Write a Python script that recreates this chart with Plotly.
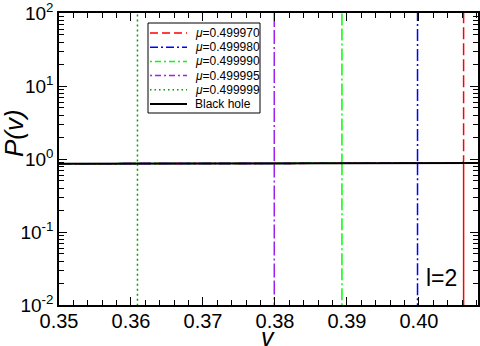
import plotly.graph_objects as go

# black hole curve P(v)
bh_v = [0.35, 0.36, 0.37, 0.38, 0.39, 0.40, 0.4082]
bh_p = [0.862, 0.864, 0.867, 0.870, 0.873, 0.876, 0.878]

# boson star curves: follow the BH curve, then blow up at a critical v
mu_labels = ["0.499970", "0.499980", "0.499990", "0.499995", "0.499999"]
star_v = [
    [0.35, 0.38, 0.40, 0.4061, 0.4062, 0.4062],
    [0.35, 0.37, 0.39, 0.3997, 0.3998, 0.3998, None, 0.3998, 0.3998],
    [0.35, 0.37, 0.3892, 0.3893, 0.3893, None, 0.3893, 0.3893],
    [0.35, 0.37, 0.3798, 0.3799, 0.3799, None, 0.3799, 0.3799],
    [0.35, 0.3608, 0.3609, 0.3609, None, 0.3609, 0.3609],
]
star_p = [
    [0.862, 0.870, 0.876, 0.877, 0.95, 200],
    [0.862, 0.867, 0.873, 0.876, 0.95, 200, None, 0.876, 0.005],
    [0.862, 0.867, 0.873, 0.95, 200, None, 0.873, 0.005],
    [0.862, 0.867, 0.870, 0.95, 200, None, 0.870, 0.005],
    [0.862, 0.864, 0.95, 200, None, 0.864, 0.005],
]
# lower branch of the mu=0.499970 curve (solid in the original)
red_low_v = [0.4061, 0.4062, 0.4062]
red_low_p = [0.877, 0.85, 0.005]

colors = ["#ff0000", "#0000ff", "#00ff00", "#a020f0", "#00a000"]
dashes = ["12px,4px", "12px,3px,2px,3px", "12px,3px,2px,3px,12px,3px",
          "14px,3px,2px,3px,14px,3px", "2px,3px"]
legend_dashes = ["8px,4px", "8px,3px,2px,3px", "2px,3px,6px,3px",
                 "2px,3px,6px,3px", "1.5px,3px"]

# plot area in pixels (for the hand-made legend)
L, R, T, B = 59, 478, 13, 305


def px(x):
    return (x - L) / (R - L)


def py(y):
    return (B - y) / (B - T)


fig = go.Figure()
for lab, v, p, c, d in zip(mu_labels, star_v, star_p, colors, dashes):
    fig.add_trace(go.Scatter(x=v, y=p, mode="lines", name="μ=" + lab, showlegend=False,
                             line=dict(color=c, dash=d, width=1.5)))
fig.add_trace(go.Scatter(x=red_low_v, y=red_low_p, mode="lines", showlegend=False,
                         line=dict(color=colors[0], width=1.5)))
fig.add_trace(go.Scatter(x=bh_v, y=bh_p, mode="lines", name="Black hole", showlegend=False,
                         line=dict(color="black", width=2)))

# legend box
fig.add_shape(type="rect", xref="paper", yref="paper", x0=px(148), x1=px(260),
              y0=py(23), y1=py(113), line=dict(color="black", width=1), fillcolor="white",
              layer="above")
leg_names = ["<i>μ</i>=" + m for m in mu_labels] + ["Black hole"]
leg_colors = colors + ["black"]
leg_dash = legend_dashes + ["solid"]
for i, (n, c, d) in enumerate(zip(leg_names, leg_colors, leg_dash)):
    yy = 33 + i * 14.2
    fig.add_shape(type="line", xref="paper", yref="paper", x0=px(150), x1=px(187),
                  y0=py(yy), y1=py(yy), line=dict(color=c, dash=d, width=2 if c == "black" else 1.5),
                  layer="above")
    fig.add_annotation(xref="paper", yref="paper", x=px(193), y=py(yy), text=n,
                       xanchor="left", yanchor="middle", showarrow=False,
                       font=dict(size=12, color="black"))

fig.add_annotation(xref="paper", yref="paper", x=px(441), y=py(278), text="l=2",
                   xanchor="center", yanchor="middle",
                   showarrow=False, font=dict(size=23, color="black"))
# axis titles
fig.add_annotation(xref="paper", yref="paper", x=px(268), y=py(337), text="<i>v</i>",
                   xanchor="center", yanchor="middle",
                   showarrow=False, font=dict(size=25, color="black"))
fig.add_annotation(xref="paper", yref="paper", x=px(14), y=py(133), text="<i>P(v)</i>",
                   xanchor="center", yanchor="middle",
                   textangle=-90, showarrow=False, font=dict(size=26, color="black"))

tick_font = dict(family="Liberation Sans, Arial", size=20, color="black")
fig.update_xaxes(range=[0.35, 0.4082], tickvals=[0.35, 0.36, 0.37, 0.38, 0.39, 0.40],
                 ticktext=["0.35", "0.36", "0.37", "0.38", "0.39", "0.40"],
                 ticks="inside", ticklen=8, tickwidth=1.3, tickcolor="black",
                 minor=dict(ticks="inside", ticklen=5, dtick=0.002, tick0=0.35, tickcolor="black"),
                 showline=True, linecolor="black", linewidth=1.5, mirror="ticks",
                 showgrid=False, zeroline=False, tickfont=tick_font, automargin=False,
                 ticklabeloverflow="allow", ticklabelstandoff=-3)
fig.update_yaxes(type="log", range=[-2, 2], tickvals=[0.01, 0.1, 1, 10, 100],
                 ticktext=["10<sup>-2</sup>", "10<sup>-1</sup>", "10<sup>0</sup>",
                           "10<sup>1</sup>", "10<sup>2</sup>"],
                 ticks="inside", ticklen=8, tickwidth=1.3, tickcolor="black",
                 minor=dict(ticks="inside", ticklen=5, tickcolor="black",
                            tickvals=[m * 10.0 ** e for e in range(-2, 2) for m in range(2, 10)]),
                 showline=True, linecolor="black", linewidth=1.5, mirror="ticks",
                 showgrid=False, zeroline=False, automargin=False, ticklabeloverflow="allow",
                 tickfont=dict(family="Liberation Sans, Arial", size=19, color="black"))

fig.update_layout(width=480, height=346, margin=dict(l=L, r=480 - R, t=T, b=346 - B),
                  plot_bgcolor="white", paper_bgcolor="white",
                  font=dict(family="Liberation Sans, Arial", color="black"),
                  showlegend=False)
# drop the page's default body margin so the figure sits at the window corner
fig.write_html("out.html", config={"displayModeBar": False},
               post_script="document.body.style.margin='0';")
